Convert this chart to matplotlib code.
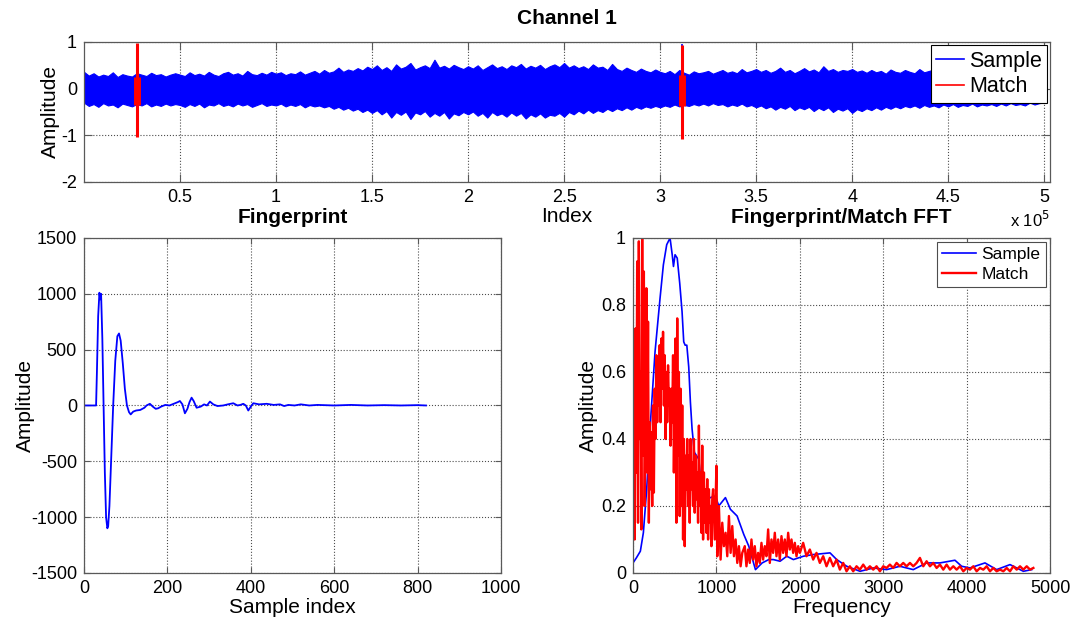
import numpy as np
import matplotlib
matplotlib.use('Agg')
import matplotlib.pyplot as plt
from matplotlib.ticker import FuncFormatter

plt.rcParams['font.family'] = ['Liberation Sans', 'DejaVu Sans']
plt.rcParams['axes.unicode_minus'] = False

sig_x = np.arange(0, 201) * 2500  # every 0.025e5 samples
sig_hi = [0.36, 0.28, 0.33, 0.26, 0.30, 0.27, 0.35, 0.25, 0.31, 0.28,
          0.26, 0.33, 0.30, 0.27, 0.34, 0.29, 0.31, 0.26, 0.30, 0.33,
          0.30, 0.27, 0.35, 0.29, 0.32, 0.28, 0.36, 0.30, 0.27, 0.33,
          0.36, 0.30, 0.33, 0.28, 0.38, 0.31, 0.29, 0.34, 0.30, 0.36,
          0.32, 0.35, 0.29, 0.33, 0.31, 0.37, 0.30, 0.34, 0.38, 0.32,
          0.40, 0.34, 0.37, 0.45, 0.36, 0.41, 0.38, 0.44, 0.39, 0.47,
          0.42, 0.50, 0.40, 0.46, 0.38, 0.52, 0.43, 0.47, 0.55, 0.41,
          0.46, 0.50, 0.44, 0.62, 0.45, 0.49, 0.43, 0.51, 0.46, 0.42,
          0.48, 0.43, 0.50, 0.40, 0.46, 0.52, 0.44, 0.48, 0.42, 0.50,
          0.46, 0.53, 0.43, 0.49, 0.45, 0.51, 0.42, 0.48, 0.52, 0.46,
          0.55, 0.45, 0.50, 0.44, 0.48, 0.42, 0.52, 0.45, 0.47, 0.40,
          0.53, 0.42, 0.38, 0.45, 0.40, 0.36, 0.43, 0.38, 0.35, 0.41,
          0.36, 0.33, 0.38, 0.31, 0.40, 0.34, 0.30, 0.37, 0.33, 0.35,
          0.38, 0.32, 0.36, 0.40, 0.34, 0.37, 0.33, 0.42, 0.35, 0.38,
          0.42, 0.36, 0.40, 0.34, 0.38, 0.45, 0.36, 0.40, 0.33, 0.38,
          0.44, 0.37, 0.41, 0.35, 0.48, 0.38, 0.42, 0.36, 0.40, 0.38,
          0.42, 0.36, 0.39, 0.34, 0.40, 0.35, 0.38, 0.32, 0.41, 0.36,
          0.34, 0.40, 0.36, 0.33, 0.42, 0.35, 0.38, 0.41, 0.34, 0.37,
          0.40, 0.34, 0.38, 0.33, 0.41, 0.36, 0.39, 0.34, 0.42, 0.37,
          0.36, 0.40, 0.34, 0.38, 0.33, 0.37, 0.35, 0.32, 0.36, 0.33,
          0.30]
sig_lo = [-0.30, -0.37, -0.33, -0.39, -0.31, -0.36, -0.34, -0.40, -0.32, -0.35,
          -0.38, -0.33, -0.36, -0.31, -0.38, -0.34, -0.37, -0.32, -0.36, -0.33,
          -0.35, -0.39, -0.33, -0.37, -0.32, -0.40, -0.34, -0.36, -0.31, -0.37,
          -0.34, -0.38, -0.32, -0.36, -0.33, -0.39, -0.35, -0.31, -0.37, -0.34,
          -0.36, -0.32, -0.38, -0.34, -0.37, -0.33, -0.40, -0.35, -0.38, -0.36,
          -0.40, -0.37, -0.43, -0.39, -0.45, -0.41, -0.47, -0.43, -0.50, -0.45,
          -0.52, -0.46, -0.55, -0.48, -0.62, -0.50, -0.56, -0.49, -0.65, -0.51,
          -0.55, -0.48, -0.60, -0.52, -0.58, -0.50, -0.64, -0.53, -0.57, -0.50,
          -0.55, -0.49, -0.58, -0.52, -0.62, -0.50, -0.57, -0.53, -0.60, -0.51,
          -0.58, -0.52, -0.64, -0.55, -0.60, -0.53, -0.62, -0.56, -0.58, -0.52,
          -0.60, -0.50, -0.55, -0.47, -0.53, -0.45, -0.52, -0.46, -0.50, -0.43,
          -0.48, -0.42, -0.46, -0.40, -0.45, -0.39, -0.43, -0.38, -0.41, -0.37,
          -0.40, -0.36, -0.39, -0.34, -0.38, -0.35, -0.37, -0.33, -0.36, -0.32,
          -0.36, -0.31, -0.35, -0.33, -0.38, -0.34, -0.37, -0.32, -0.38, -0.35,
          -0.40, -0.36, -0.42, -0.38, -0.45, -0.39, -0.43, -0.37, -0.46, -0.40,
          -0.44, -0.39, -0.48, -0.41, -0.46, -0.40, -0.50, -0.43, -0.47, -0.42,
          -0.52, -0.44, -0.48, -0.42, -0.46, -0.40, -0.45, -0.39, -0.43, -0.38,
          -0.42, -0.37, -0.40, -0.36, -0.41, -0.35, -0.39, -0.36, -0.40, -0.34,
          -0.38, -0.33, -0.39, -0.35, -0.37, -0.32, -0.38, -0.34, -0.36, -0.33,
          -0.37, -0.32, -0.36, -0.31, -0.35, -0.33, -0.36, -0.30, -0.34, -0.31,
          -0.30]
spike_x = 311500      # blue spike next to the second match
spike_top = 0.95

# matches found (index), spike extent and core extent
match_x = [27600, 311300]
match_top = [0.98, 0.94]
match_bot = [-1.03, -1.08]
core_top = [0.26, 0.30]
core_bot = [-0.34, -0.38]

# ---- fingerprint waveform
fp_x = [0, 29, 31, 34, 37, 39, 41, 44, 47, 50, 53, 56, 58, 61, 65, 70, 75, 80, 84, 88,
        93, 98, 103, 108, 112, 118, 125, 135, 145, 150, 158, 165, 172, 178, 185, 195,
        205, 215, 225, 230, 236, 242, 248, 253, 258, 263, 270, 280, 288, 295, 302, 310,
        320, 334, 345, 358, 368, 375, 382, 388, 394, 400, 406, 420, 438, 455, 470, 480,
        490, 505, 520, 540, 560, 600, 640, 680, 720, 760, 800, 820]
fp_y = [0, 0, 300, 800, 1010, 950, 1000, 600, 0, -600, -1000, -1100, -1080, -900, -500,
        0, 400, 620, 645, 580, 380, 150, 0, -60, -80, -55, -45, -40, -20, 0, 15, -10,
        -30, -25, -10, 5, 0, 15, 30, 40, 10, -70, -30, 30, 70, 40, -20, -10, 10, 0, 35,
        10, -5, 0, 10, 20, 0, 5, 15, 0, -45, -10, 20, 10, 15, 5, 10, -5, 5, 0, 10, 0,
        5, 0, 5, 0, 3, 0, 3, 0]

# ---- normalised spectra
samp_f = [0, 40, 88, 124, 164, 204, 264, 324, 364, 404, 444, 470, 485, 504, 530, 560,
          588, 608, 625, 645, 668, 688, 708, 736, 788, 828, 868, 928, 988, 1028, 1108,
          1168, 1248, 1328, 1388, 1468, 1548, 1628, 1683, 1763, 1843, 1923, 2043, 2163,
          2362, 2442, 2562, 2722, 2882, 3040, 3200, 3360, 3520, 3680, 3860, 3940, 4040,
          4220, 4360, 4520, 4680, 4780]
samp_a = [0.03, 0.045, 0.065, 0.12, 0.25, 0.43, 0.66, 0.82, 0.92, 0.98, 1.0, 0.95,
          0.915, 0.95, 0.94, 0.865, 0.78, 0.69, 0.68, 0.68, 0.615, 0.51, 0.43, 0.36,
          0.34, 0.24, 0.22, 0.225, 0.23, 0.20, 0.225, 0.19, 0.17, 0.115, 0.08, 0.01,
          0.03, 0.04, 0.04, 0.035, 0.05, 0.04, 0.05, 0.055, 0.06, 0.04, 0.02, 0.005,
          0.015, 0.01, 0.02, 0.01, 0.03, 0.03, 0.038, 0.02, 0.015, 0.03, 0.01, 0.025,
          0.005, 0.01]

match_f = [0, 10, 20, 30, 40, 50, 60, 70, 80, 90, 100, 110, 120, 130, 140, 150, 160,
           170, 180, 190, 200, 210, 220, 230, 240, 250, 260, 270, 280, 290, 300, 310,
           320, 330, 340, 350, 360, 370, 380, 390, 400, 410, 420, 430, 440, 450, 460,
           470, 480, 490, 500, 510, 520, 530, 540, 550, 560, 570, 580, 590, 600, 610,
           620, 630, 640, 650, 660, 670, 680, 690, 700, 710, 720, 730, 740, 750, 760,
           770, 780, 790, 800, 810, 820, 830, 840, 850, 860, 870, 880, 890, 900, 910,
           920, 930, 940, 950, 960, 980, 1000, 1010, 1030, 1050, 1070, 1090, 1110, 1130,
           1150, 1170, 1190, 1210, 1230, 1250, 1270, 1290, 1310, 1340, 1360, 1380, 1400,
           1420, 1440, 1460, 1480, 1500, 1520, 1540, 1560, 1580, 1600, 1620, 1640, 1660,
           1680, 1700, 1720, 1740, 1760, 1780, 1800, 1820, 1840, 1860, 1880, 1900, 1920,
           1940, 1960, 1980, 2000, 2040, 2080, 2120, 2160, 2200, 2240, 2280, 2320, 2360,
           2400, 2440, 2480, 2520, 2560, 2600, 2640, 2680, 2720, 2760, 2800, 2840, 2880,
           2920, 2960, 3000, 3040, 3080, 3120, 3160, 3200, 3240, 3280, 3320, 3360, 3400,
           3440, 3480, 3520, 3560, 3600, 3640, 3680, 3720, 3760, 3800, 3840, 3880, 3920,
           3960, 4000, 4040, 4080, 4120, 4160, 4200, 4240, 4280, 4320, 4360, 4400, 4440,
           4480, 4520, 4560, 4600, 4640, 4680, 4720, 4760, 4800]
match_a = [0.15, 0.55, 0.10, 0.73, 0.30, 0.93, 0.15, 0.99, 0.40, 0.60, 0.13, 1.0, 0.35,
           0.90, 0.20, 0.50, 0.85, 0.30, 0.75, 0.15, 0.45, 0.25, 0.42, 0.20, 0.50, 0.24,
           0.55, 0.40, 0.65, 0.45, 0.60, 0.50, 0.68, 0.45, 0.70, 0.55, 0.72, 0.50, 0.65,
           0.40, 0.60, 0.45, 0.62, 0.50, 0.55, 0.38, 0.55, 0.45, 0.65, 0.30, 0.50, 0.70,
           0.15, 0.76, 0.35, 0.60, 0.17, 0.55, 0.20, 0.50, 0.10, 0.40, 0.08, 0.35, 0.25,
           0.40, 0.20, 0.35, 0.15, 0.40, 0.25, 0.33, 0.20, 0.40, 0.18, 0.35, 0.22, 0.30,
           0.15, 0.44, 0.20, 0.30, 0.12, 0.38, 0.10, 0.30, 0.15, 0.25, 0.12, 0.28, 0.10,
           0.25, 0.15, 0.20, 0.08, 0.22, 0.25, 0.10, 0.32, 0.05, 0.20, 0.04, 0.15, 0.08,
           0.12, 0.05, 0.17, 0.06, 0.14, 0.05, 0.10, 0.03, 0.08, 0.02, 0.06, 0.08, 0.02,
           0.07, 0.03, 0.10, 0.04, 0.08, 0.02, 0.06, 0.03, 0.09, 0.04, 0.08, 0.05, 0.13,
           0.03, 0.10, 0.06, 0.12, 0.05, 0.10, 0.04, 0.11, 0.06, 0.10, 0.05, 0.12, 0.07,
           0.10, 0.06, 0.09, 0.05, 0.08, 0.06, 0.09, 0.05, 0.07, 0.04, 0.06, 0.03, 0.05,
           0.02, 0.045, 0.02, 0.04, 0.01, 0.03, 0.005, 0.02, 0.005, 0.02, 0.01, 0.025,
           0.01, 0.02, 0.01, 0.02, 0.005, 0.02, 0.015, 0.025, 0.015, 0.03, 0.02, 0.03,
           0.02, 0.03, 0.02, 0.03, 0.045, 0.02, 0.035, 0.02, 0.03, 0.015, 0.025, 0.01,
           0.025, 0.01, 0.02, 0.01, 0.02, 0.005, 0.015, 0.01, 0.02, 0.005, 0.015, 0.01,
           0.02, 0.005, 0.015, 0.005, 0.01, 0.005, 0.015, 0.005, 0.02, 0.01, 0.02, 0.01,
           0.02, 0.01, 0.015]

BLUE = '#0000ff'
RED = '#ff0000'
TICK_FS = 13
LABEL_FS = 15


def matlab_axes(ax, ticklen):
    ax.grid(True, linestyle=':', color='0.3', linewidth=0.8)
    ax.set_axisbelow(True)
    ax.tick_params(direction='in', length=ticklen, width=0.8, top=True, right=True,
                   labelsize=TICK_FS, colors='0.35', labelcolor='black', pad=5)
    for s in ax.spines.values():
        s.set_color('0.35')
        s.set_linewidth(0.9)


fig = plt.figure(figsize=(10.74, 6.23), dpi=100)

# top: whole recording
ax1 = fig.add_axes([0.0782, 0.7079, 0.8994, 0.2247])
ax1.fill_between(sig_x, sig_lo, sig_hi, color=BLUE, lw=0.8)
ax1.vlines(spike_x, 0, spike_top, color=BLUE, lw=1.2)
ax1.vlines(match_x, match_bot, match_top, color=RED, lw=2.2)
ax1.vlines(match_x, core_bot, core_top, color=RED, lw=5)
ax1.set_xlim(0, 503000)
ax1.set_ylim(-2, 1)
ax1.set_xticks(np.arange(50000, 500001, 50000))
ax1.set_yticks([-2, -1, 0, 1])
ax1.xaxis.set_major_formatter(FuncFormatter(lambda v, p: '%g' % (v / 1e5)))
matlab_axes(ax1, 6)
ax1.set_ylabel('Amplitude', fontsize=LABEL_FS, labelpad=1)
ax1.set_xlabel('Index', fontsize=LABEL_FS, labelpad=1)
ax1.text(1.0, -0.27, r'x 10$^5$', transform=ax1.transAxes, ha='right', va='center',
         fontsize=12)
h = [plt.Line2D([], [], color=BLUE, lw=1.2), plt.Line2D([], [], color=RED, lw=1.2)]
leg = ax1.legend(h, ['Sample', 'Match'], loc='upper right', bbox_to_anchor=(0.997, 0.975),
                 fontsize=15.5, frameon=True, fancybox=False, framealpha=1,
                 edgecolor='black', handlelength=1.3, handletextpad=0.2,
                 borderpad=0.25, labelspacing=0.2, borderaxespad=0)
leg.get_frame().set_linewidth(0.8)
fig.text(0.528, 1 - 18 / 623, 'Channel 1', ha='center', va='center',
         fontsize=15, fontweight='bold')

# bottom left: fingerprint
ax2 = fig.add_axes([0.0782, 0.0803, 0.3883, 0.5377])
ax2.plot(fp_x, fp_y, color=BLUE, lw=1.3)
ax2.set_xlim(0, 1000)
ax2.set_ylim(-1500, 1500)
ax2.set_yticks(np.arange(-1500, 1501, 500))
matlab_axes(ax2, 4)
ax2.set_xlabel('Sample index', fontsize=LABEL_FS, labelpad=1)
ax2.set_ylabel('Amplitude', fontsize=LABEL_FS, labelpad=-3)
ax2.set_title('Fingerprint', fontsize=15, fontweight='bold', pad=11)

# bottom right: spectra
ax3 = fig.add_axes([0.5894, 0.0803, 0.3883, 0.5377])
ax3.plot(samp_f, samp_a, color=BLUE, lw=1.2, label='Sample')
ax3.plot(match_f, match_a, color=RED, lw=1.7, label='Match')
ax3.set_xlim(0, 5000)
ax3.set_ylim(0, 1)
ax3.yaxis.set_major_formatter(FuncFormatter(lambda v, p: '%g' % v))
matlab_axes(ax3, 4)
ax3.set_xlabel('Frequency', fontsize=LABEL_FS, labelpad=1)
ax3.set_ylabel('Amplitude', fontsize=LABEL_FS, labelpad=2)
ax3.set_title('Fingerprint/Match FFT', fontsize=15, fontweight='bold', pad=11)
leg3 = ax3.legend(loc='upper right', bbox_to_anchor=(0.99, 0.988), fontsize=12.5,
                  frameon=True, fancybox=False, framealpha=1, edgecolor='0.3',
                  handlelength=2.0, handletextpad=0.3, borderpad=0.3,
                  labelspacing=0.25, borderaxespad=0)
leg3.get_frame().set_linewidth(0.8)

fig.savefig('out.png', dpi=100)
